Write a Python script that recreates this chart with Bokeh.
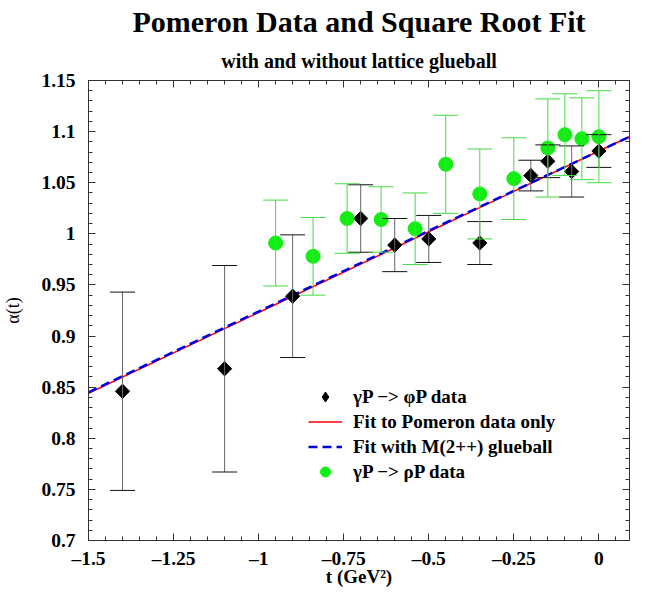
import math
from bokeh.plotting import figure
from bokeh.models import (ColumnDataSource, Whisker, TeeHead, Legend, LegendItem, LinearAxis,
                          SingleIntervalTicker, CustomJSTickFormatter, Title, Range1d)
from bokeh.embed import file_html
from bokeh.resources import INLINE

# gamma P -> phi P data
phi_t = [-1.40, -1.10, -0.90, -0.70, -0.60, -0.50, -0.35, -0.20, -0.15, -0.08, 0.00]
phi_alpha = [0.846, 0.868, 0.939, 1.015, 0.989, 0.995, 0.991, 1.057, 1.071, 1.061, 1.081]
phi_err = [0.097, 0.101, 0.060, 0.033, 0.026, 0.023, 0.021, 0.015, 0.016, 0.025, 0.016]

# gamma P -> rho P data
rho_t = [-0.95, -0.84, -0.74, -0.64, -0.54, -0.45, -0.35, -0.25, -0.15, -0.10, -0.05, 0.00]
rho_alpha = [0.991, 0.978, 1.015, 1.014, 1.005, 1.068, 1.039, 1.054, 1.084, 1.097, 1.093, 1.095]
rho_err = [0.042, 0.038, 0.034, 0.032, 0.035, 0.048, 0.044, 0.040, 0.048, 0.040, 0.040, 0.045]

# fits
fit_t = [-1.5, -1.0, -0.5, 0.0, 0.09]
fit_pomeron = [0.844, 0.923, 1.002, 1.081, 1.095]
fit_glueball = [0.845, 0.924, 1.003, 1.081, 1.095]

FONT = "Liberation Serif"

phi_src = ColumnDataSource(dict(
    t=phi_t, a=phi_alpha,
    up=[a + e for a, e in zip(phi_alpha, phi_err)],
    lo=[a - e for a, e in zip(phi_alpha, phi_err)],
    ang=[math.pi / 4] * len(phi_t)))
rho_src = ColumnDataSource(dict(
    t=rho_t, a=rho_alpha,
    up=[a + e for a, e in zip(rho_alpha, rho_err)],
    lo=[a - e for a, e in zip(rho_alpha, rho_err)]))
fit_src = ColumnDataSource(dict(t=fit_t, pom=fit_pomeron, glue=fit_glueball))

p = figure(width=631, height=589, x_range=Range1d(-1.5, 0.09),
           y_range=Range1d(0.7, 1.15 + 1e-9),
           output_backend="svg", toolbar_location=None, title=None,
           min_border_left=79, min_border_right=2, min_border_bottom=0, min_border_top=0,
           x_axis_location=None, y_axis_location=None)
p.background_fill_color = "white"
p.border_fill_color = "white"
p.outline_line_color = "#333333"
p.xgrid.visible = False
p.ygrid.visible = False

xfmt = CustomJSTickFormatter(code="""
var s = Number(tick.toFixed(2)).toString();
return s.replace('-', '\\u2013');
""")
yfmt = CustomJSTickFormatter(code="return Number(tick.toFixed(2)).toString();")
nofmt = CustomJSTickFormatter(code="return '';")


def style_axis(ax, labels=True):
    ax.axis_line_color = "#333333"
    ax.major_tick_line_color = "#333333"
    ax.minor_tick_line_color = "#333333"
    ax.major_tick_in = 7
    ax.major_tick_out = 0
    ax.minor_tick_in = 4
    ax.minor_tick_out = 0
    if labels:
        ax.major_label_text_font = FONT
        ax.major_label_text_font_size = "19.5px"
        ax.major_label_text_font_style = "bold"
        ax.major_label_text_color = "black"
        ax.axis_label_text_font = FONT
        ax.axis_label_text_color = "black"
    else:
        ax.major_label_standoff = 0


xb = LinearAxis(ticker=SingleIntervalTicker(interval=0.25, num_minor_ticks=5), formatter=xfmt,
                axis_label="t (GeV\u00b2)")
style_axis(xb)
xb.major_label_standoff = 7
xb.axis_label_standoff = -6
xb.axis_label_text_font_size = "19px"
xb.axis_label_text_font_style = "bold"
p.add_layout(xb, "below")

yl = LinearAxis(ticker=SingleIntervalTicker(interval=0.05, num_minor_ticks=5), formatter=yfmt,
                axis_label="\u03b1(t)")
style_axis(yl)
yl.major_label_standoff = 13
yl.axis_label_standoff = 15
yl.axis_label_text_font_size = "18px"
yl.axis_label_text_font_style = "normal"
p.add_layout(yl, "left")

xt = LinearAxis(ticker=SingleIntervalTicker(interval=0.25, num_minor_ticks=5), formatter=nofmt)
style_axis(xt, labels=False)
p.add_layout(xt, "above")
yr = LinearAxis(ticker=SingleIntervalTicker(interval=0.05, num_minor_ticks=5), formatter=nofmt)
style_axis(yr, labels=False)
p.add_layout(yr, "right")

p.add_layout(Title(text="with and without lattice glueball", align="center", text_font=FONT,
                   text_font_size="20px", text_font_style="bold", text_color="black",
                   standoff=17), "above")
p.add_layout(Title(text="Pomeron Data and Square Root Fit", align="center", text_font=FONT,
                   text_font_size="30px", text_font_style="bold", text_color="black",
                   standoff=4), "above")

# error bars
p.add_layout(Whisker(source=phi_src, base="t", upper="up", lower="lo", level="glyph",
                     line_color="#666666", line_width=1,
                     upper_head=TeeHead(size=25, line_color="#111111", line_width=1),
                     lower_head=TeeHead(size=25, line_color="#111111", line_width=1)))
p.add_layout(Whisker(source=rho_src, base="t", upper="up", lower="lo", level="glyph",
                     line_color="#44dd44", line_width=1,
                     upper_head=TeeHead(size=25, line_color="#44dd44", line_width=1),
                     lower_head=TeeHead(size=25, line_color="#44dd44", line_width=1)))

r_red = p.line("t", "pom", source=fit_src, line_color="#ff0000", line_width=1.5)
r_blue = p.line("t", "glue", source=fit_src, line_color="#0000dd", line_width=2.5,
                line_dash="9 5")
# diamond drawn under the rotated squares: it is hidden there, and gives the legend symbol
r_phi_leg = p.scatter("t", "a", source=phi_src, marker="diamond", size=14,
                      fill_color="black", line_color="black")
r_phi = p.scatter("t", "a", source=phi_src, marker="square", angle="ang", size=10,
                  fill_color="black", line_color="black")
r_rho = p.scatter("t", "a", source=rho_src, marker="circle", size=14,
                  fill_color="#11ee11", line_color="#11ee11")

legend = Legend(items=[
    LegendItem(label="\u03b3P \u2212> \u03c6P data", renderers=[r_phi_leg]),
    LegendItem(label="Fit to Pomeron data only", renderers=[r_red]),
    LegendItem(label="Fit with M(2++) glueball", renderers=[r_blue]),
    LegendItem(label="\u03b3P \u2212> \u03c1P data", renderers=[r_rho]),
], location=(220, 56), padding=0, margin=0, spacing=0, glyph_width=34, glyph_height=25,
    label_height=25, label_standoff=11, label_text_font=FONT, label_text_font_size="19px",
    label_text_font_style="bold", label_text_color="black",
    border_line_alpha=0, background_fill_alpha=0)
p.add_layout(legend, "center")

open("out.html", "w").write(file_html(p, INLINE))
